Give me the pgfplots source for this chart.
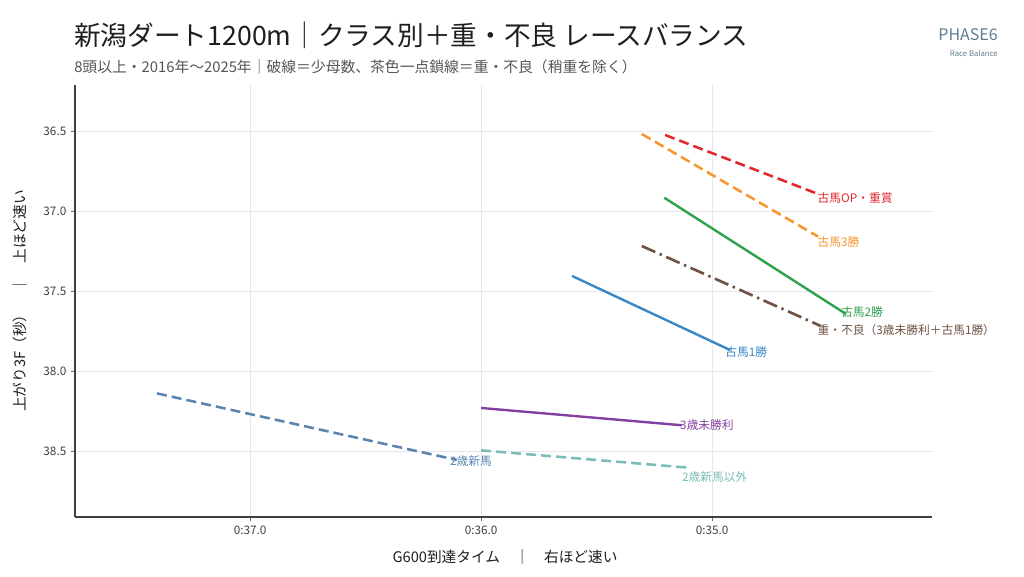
\documentclass[border=0pt]{standalone}
\usepackage{fontspec}
\setmainfont{Noto Sans CJK JP}
\usepackage{pgfplots}
\pgfplotsset{compat=1.18}
\definecolor{cred}{HTML}{E3262B}
\definecolor{corange}{HTML}{F7962E}
\definecolor{cgreen}{HTML}{2EA24A}
\definecolor{cbrown}{HTML}{6E5244}
\definecolor{cblue}{HTML}{3A87C6}
\definecolor{cpurple}{HTML}{8340A0}
\definecolor{csteel}{HTML}{5A84B0}
\definecolor{cteal}{HTML}{79BDB6}
\definecolor{ctitle}{HTML}{1E1E1E}
\definecolor{csub}{HTML}{555555}
\definecolor{cbrand}{HTML}{5F7D8E}
\definecolor{cgrid}{HTML}{E6E6EC}
\begin{document}
\begin{tikzpicture}
\begin{scope}[x=0.75pt,y=-0.75pt]
\useasboundingbox (0,0) rectangle (1024,577);
\node[anchor=west,inner sep=0,text=ctitle,font=\fontsize{20pt}{24pt}\selectfont] at (74,35) {新潟ダート1200m｜クラス別＋重・不良 レースバランス};
\node[anchor=west,inner sep=0,text=csub,font=\fontsize{11.1pt}{13pt}\selectfont] at (74,67) {8頭以上・2016年～2025年｜破線＝少母数、茶色一点鎖線＝重・不良（稍重を除く）};
\node[anchor=east,inner sep=0,text=cbrand,font=\fontsize{12pt}{14pt}\selectfont] at (998,35) {PHASE6};
\node[anchor=east,inner sep=0,text=cbrand,font=\fontsize{5.8pt}{7pt}\selectfont] at (998,53) {Race Balance};
\node[inner sep=0,text=ctitle,font=\fontsize{11pt}{13pt}\selectfont] at (505,557) {G600到達タイム　｜　右ほど速い};
\node[inner sep=0,text=ctitle,rotate=90,font=\fontsize{11pt}{13pt}\selectfont] at (20,301) {上がり3F（秒）　｜　上ほど速い};
\end{scope}
\begin{axis}[
  at={(377.625pt,-225.75pt)}, anchor=center,
  scale only axis, width=642.75pt, height=324pt,
  x dir=reverse, y dir=reverse,
  xmin=34.048, xmax=37.758, ymin=36.2125, ymax=38.9125,
  axis lines*=left,
  axis line style={color=black!75, line width=0.8pt},
  xtick={35,36,37}, xticklabels={0:35.0,0:36.0,0:37.0},
  ytick={36.5,37,37.5,38,38.5},
  yticklabel style={/pgf/number format/.cd, fixed, fixed zerofill, precision=1},
  /pgf/number format/assume math mode=true,
  tick label style={font=\fontsize{8.8pt}{10pt}\selectfont, text=black!75},
  tick align=outside, major tick length=3pt,
  tick style={color=black!60, line width=0.6pt},
  grid=major, major grid style={color=cgrid, line width=0.7pt},
  clip=false,
]
\addplot[cred, line width=1.9pt, dash pattern=on 7.5pt off 3.8pt] coordinates {(35.203,36.525) (34.541,36.894)};
\addplot[corange, line width=1.9pt, dash pattern=on 7.5pt off 3.8pt] coordinates {(35.304,36.519) (34.541,37.16)};
\addplot[cgreen, line width=1.8pt] coordinates {(35.207,36.917) (34.42,37.644)};
\addplot[cbrown, line width=2pt, dash pattern=on 11pt off 3.6pt on 1.8pt off 3.6pt] coordinates {(35.304,37.219) (34.532,37.717)};
\addplot[cblue, line width=1.8pt] coordinates {(35.606,37.406) (34.922,37.869)};
\addplot[cpurple, line width=1.8pt] coordinates {(36.0,38.231) (35.131,38.339)};
\addplot[cteal, line width=1.9pt, dash pattern=on 7.5pt off 3.8pt] coordinates {(36.0,38.496) (35.095,38.605)};
\addplot[csteel, line width=1.9pt, dash pattern=on 7.5pt off 3.8pt] coordinates {(37.403,38.14) (36.105,38.556)};
\begin{scope}[every node/.style={anchor=west,inner sep=0,font=\fontsize{8.8pt}{10pt}\selectfont}]
\node[text=cred] at (axis cs:34.544,36.917) {古馬OP・重賞};
\node[text=corange] at (axis cs:34.544,37.194) {古馬3勝};
\node[text=cgreen] at (axis cs:34.442,37.631) {古馬2勝};
\node[text=cbrown] at (axis cs:34.544,37.744) {重・不良（3歳未勝利＋古馬1勝）};
\node[text=cblue] at (axis cs:34.944,37.879) {古馬1勝};
\node[text=cpurple] at (axis cs:35.139,38.34) {3歳未勝利};
\node[text=csteel] at (axis cs:36.135,38.561) {2歳新馬};
\node[text=cteal] at (axis cs:35.131,38.661) {2歳新馬以外};
\end{scope}
\end{axis}
\end{tikzpicture}
\end{document}
